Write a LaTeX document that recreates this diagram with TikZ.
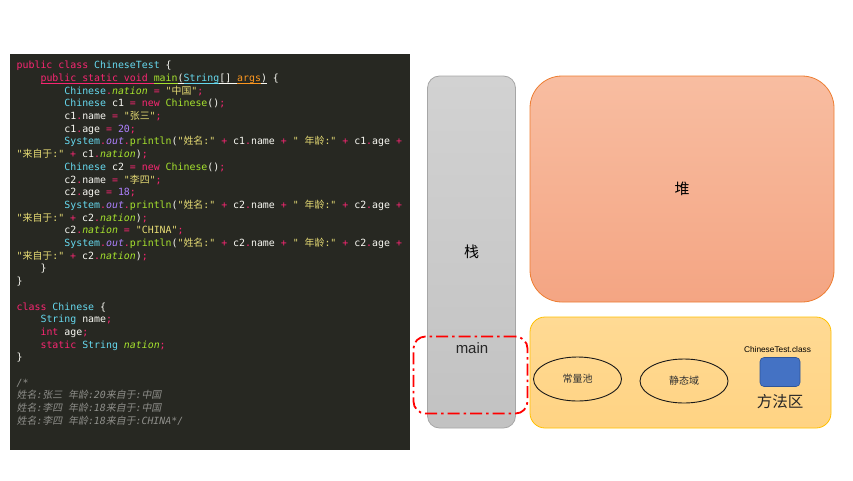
\documentclass[tikz,border=0pt]{standalone}
\usepackage{fontspec}
\setmainfont{Liberation Sans}
\setmonofont{DejaVu Sans Mono}
\newfontfamily\cjk{Noto Sans CJK SC}
\newfontfamily\cjkit{Noto Sans CJK SC}[FakeSlant=0.2]
\usetikzlibrary{shapes.geometric}
\definecolor{mkbg}{HTML}{272822}
\definecolor{mkpink}{HTML}{F92672}
\definecolor{mkcyan}{HTML}{66D9EF}
\definecolor{mkgreen}{HTML}{A6E22E}
\definecolor{mkyellow}{HTML}{E6DB74}
\definecolor{mkpurple}{HTML}{AE81FF}
\definecolor{mkorange}{HTML}{FD971F}
\definecolor{mkwhite}{HTML}{F8F8F2}
\definecolor{mkcm}{HTML}{8E8E8A}
\definecolor{stackt}{HTML}{D2D2D2}
\definecolor{stackb}{HTML}{C2C2C2}
\definecolor{stackd}{HTML}{A6A6A6}
\definecolor{heapt}{HTML}{F8BDA1}
\definecolor{heapbot}{HTML}{F4A583}
\definecolor{heapd}{HTML}{ED7D31}
\definecolor{mat}{HTML}{FFDA94}
\definecolor{mab}{HTML}{FFD383}
\definecolor{mad}{HTML}{FFC000}
\definecolor{clsf}{HTML}{4472C4}
\definecolor{clsd}{HTML}{2F5597}
\newcommand\ckw[1]{\textcolor{mkpink}{#1}}
\newcommand\ctype[1]{\textcolor{mkcyan}{#1}}
\newcommand\cfun[1]{\textcolor{mkgreen}{#1}}
\newcommand\cfld[1]{\textcolor{mkgreen}{\itshape #1}}
\newcommand\cstr[1]{\textcolor{mkyellow}{#1}}
\newcommand\cnum[1]{\textcolor{mkpurple}{#1}}
\newcommand\cout[1]{\textcolor{mkpurple}{\itshape #1}}
\newcommand\carg[1]{\textcolor{mkorange}{#1}}
\newcommand\ccm[1]{\textcolor{mkcm}{\itshape #1}}
\newcommand\ulx[1]{\setbox0=\hbox{#1}\rlap{\rule[-2.2pt]{\wd0}{0.7pt}}\box0\relax}
\newcommand\cl[3]{\node[code] (L#1) at ({16.5+#2*5.96},{68.7+(#1-1)*12.7}) {#3};}
\begin{document}
\begin{tikzpicture}[x=1pt,y=-1pt,
  code/.style={anchor=base west, inner sep=0pt, text=mkwhite, font=\ttfamily\fontsize{9.9}{12}\selectfont},
  zone/.style={inner sep=0pt, line width=0.8pt},
  cjklbl/.style={inner sep=0pt, text=black, font=\cjk\fontsize{15}{15}\selectfont},
  oval/.style={ellipse, draw=black!90, line width=0.9pt, inner sep=0pt, minimum width=88pt, minimum height=44pt, text=black!80, font=\cjk\fontsize{10}{10}\selectfont}]
\useasboundingbox (0,0) rectangle (853,480);
\node[fill=mkbg, minimum width=400pt, minimum height=396pt, anchor=north west, inner sep=0pt] (panel) at (10,54) {};
\cl{1}{0}{\ckw{public class} \ctype{ChineseTest} \{}
\cl{2}{4}{\ckw{\ulx{public static void }}\cfun{\ulx{main}}\ulx{(}\ctype{\ulx{String}}\ulx{[] }\carg{\ulx{args}}\ulx{)} \{}
\cl{3}{8}{\ctype{Chinese}\ckw{.}\cfld{nation} \ckw{=} \cstr{"{\cjk 中国}"}\ckw{;}}
\cl{4}{8}{\ctype{Chinese} c1 \ckw{=} \ckw{new} \cfun{Chinese}()\ckw{;}}
\cl{5}{8}{c1\ckw{.}name \ckw{=} \cstr{"{\cjk 张三}"}\ckw{;}}
\cl{6}{8}{c1\ckw{.}age \ckw{=} \cnum{20}\ckw{;}}
\cl{7}{8}{\ctype{System}\ckw{.}\cout{out}\ckw{.}\cfun{println}(\cstr{"{\cjk 姓名}:"} \ckw{+} c1\ckw{.}name \ckw{+} \cstr{" {\cjk 年龄}:"} \ckw{+} c1\ckw{.}age \ckw{+}}
\cl{8}{0}{\cstr{"{\cjk 来自于}:"} \ckw{+} c1\ckw{.}\cfld{nation})\ckw{;}}
\cl{9}{8}{\ctype{Chinese} c2 \ckw{=} \ckw{new} \cfun{Chinese}()\ckw{;}}
\cl{10}{8}{c2\ckw{.}name \ckw{=} \cstr{"{\cjk 李四}"}\ckw{;}}
\cl{11}{8}{c2\ckw{.}age \ckw{=} \cnum{18}\ckw{;}}
\cl{12}{8}{\ctype{System}\ckw{.}\cout{out}\ckw{.}\cfun{println}(\cstr{"{\cjk 姓名}:"} \ckw{+} c2\ckw{.}name \ckw{+} \cstr{" {\cjk 年龄}:"} \ckw{+} c2\ckw{.}age \ckw{+}}
\cl{13}{0}{\cstr{"{\cjk 来自于}:"} \ckw{+} c2\ckw{.}\cfld{nation})\ckw{;}}
\cl{14}{8}{c2\ckw{.}\cfld{nation} \ckw{=} \cstr{"CHINA"}\ckw{;}}
\cl{15}{8}{\ctype{System}\ckw{.}\cout{out}\ckw{.}\cfun{println}(\cstr{"{\cjk 姓名}:"} \ckw{+} c2\ckw{.}name \ckw{+} \cstr{" {\cjk 年龄}:"} \ckw{+} c2\ckw{.}age \ckw{+}}
\cl{16}{0}{\cstr{"{\cjk 来自于}:"} \ckw{+} c2\ckw{.}\cfld{nation})\ckw{;}}
\cl{17}{4}{\}}
\cl{18}{0}{\}}
\cl{20}{0}{\ckw{class} \ctype{Chinese} \{}
\cl{21}{4}{\ctype{String} name\ckw{;}}
\cl{22}{4}{\ckw{int} age\ckw{;}}
\cl{23}{4}{\ckw{static} \ctype{String} \cfld{nation}\ckw{;}}
\cl{24}{0}{\}}
\cl{26}{0}{\ccm{/*}}
\cl{27}{0}{\ccm{{\cjkit 姓名}:{\cjkit 张三} {\cjkit 年龄}:20{\cjkit 来自于}:{\cjkit 中国}}}
\cl{28}{0}{\ccm{{\cjkit 姓名}:{\cjkit 李四} {\cjkit 年龄}:18{\cjkit 来自于}:{\cjkit 中国}}}
\cl{29}{0}{\ccm{{\cjkit 姓名}:{\cjkit 李四} {\cjkit 年龄}:18{\cjkit 来自于}:CHINA*/}}
% memory areas
\node[zone, cjklbl, draw=stackd, top color=stackt, bottom color=stackb, rounded corners=12pt, minimum width=88pt, minimum height=352pt] (stack) at (471.5,252) {栈};
\node[zone, cjklbl, draw=heapd, top color=heapt, bottom color=heapbot, rounded corners=32pt, minimum width=304pt, minimum height=226pt] (heap) at (682,189) {堆};
\node[zone, draw=mad, top color=mat, bottom color=mab, rounded corners=15pt, minimum width=301pt, minimum height=111pt] (marea) at (680.5,372.5) {};
\node[draw=red, line width=1.8pt, dash pattern=on 12pt off 4pt on 2.5pt off 4pt, rounded corners=12pt, minimum width=114pt, minimum height=77pt, inner sep=0pt] (mainbox) at (470.5,375) {};
\node[inner sep=0pt, text=black!85, font=\fontsize{15}{15}\selectfont] (mainlbl) at (472,348.5) {main};
\node[oval] (pool) at (577.5,379) {常量池};
\node[oval] (static) at (684,381) {静态域};
\node[draw=clsd, fill=clsf, line width=0.6pt, rounded corners=4pt, minimum width=40pt, minimum height=29pt, inner sep=0pt] (cls) at (780,372) {};
\node[inner sep=0pt, text=black, font=\fontsize{8.3}{9}\selectfont] (clslbl) at (777.5,350) {ChineseTest.class};
\node[cjklbl, font=\cjk\fontsize{15.5}{16}\selectfont, text=black!85] (malbl) at (780,402) {方法区};
\end{tikzpicture}
\end{document}
